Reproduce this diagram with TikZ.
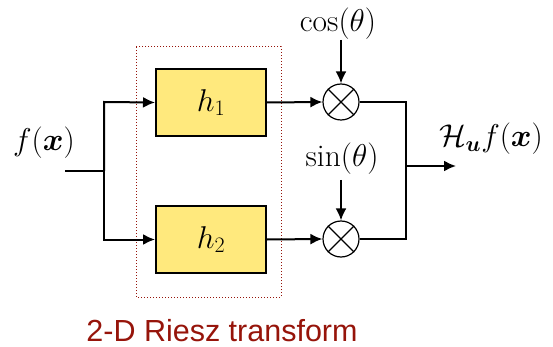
\RequirePackage{fix-cm}
\documentclass[tikz,border=0pt]{standalone}
\usepackage{bm}
\usepackage{fontspec}
\newfontfamily\labelfont{Liberation Sans}
\usetikzlibrary{arrows.meta}
\definecolor{boxyellow}{RGB}{255,233,125}
\definecolor{darkred}{RGB}{150,20,10}
\begin{document}
\begin{tikzpicture}[x=1pt,y=-1pt,
  wire/.style={line width=2pt},
  arr/.style={wire,-{Latex[length=12pt,width=11pt]}},
  filterbox/.style={draw,line width=2pt,fill=boxyellow,minimum width=110pt,minimum height=67pt,inner sep=0pt},
  mult/.style={draw,circle,line width=1.2pt,minimum size=36pt,inner sep=0pt},
  mathtxt/.style={inner sep=0pt,font=\fontsize{31.5}{38}\selectfont}]
\useasboundingbox (0,0) rectangle (553,347);
\draw[darkred,dotted,line width=1pt] (136,47) rectangle (281,297);
\node[mathtxt] (fx) at (44,143) {$f(\bm{x})$};
\coordinate (in) at (65,171);
\coordinate (br) at (104,171);
\coordinate (brt) at (104,102);
\coordinate (brb) at (104,239);
\node[filterbox] (h1) at (211,102.5) {\fontsize{31.5}{38}\selectfont$h_1$};
\node[filterbox] (h2) at (211,239.5) {\fontsize{31.5}{38}\selectfont$h_2$};
\node[mult] (m1) at (341,102) {};
\node[mult] (m2) at (341,239) {};
\draw[line width=1.2pt] (m1.north east) -- (m1.south west) (m1.north west) -- (m1.south east);
\draw[line width=1.2pt] (m2.north east) -- (m2.south west) (m2.north west) -- (m2.south east);
\node[mathtxt] (cos) at (338,24) {$\cos(\theta)$};
\node[mathtxt] (sin) at (342,159) {$\sin(\theta)$};
\coordinate (cosend) at (341,40);
\coordinate (sinend) at (341,180);
\draw[wire] (in) -- (br);
\draw[arr] (brt) -- (brb |- h2.west) -- (h2.west);
\draw[arr] (br) -- (brt) -- (h1.west);
\draw[arr] (h1.east) -- (m1.west);
\draw[arr] (h2.east) -- (m2.west);
\draw[arr] (cosend) -- (m1.north);
\draw[arr] (sinend) -- (m2.north);
\coordinate (jt) at (406,102);
\coordinate (jb) at (406,239);
\coordinate (jm) at (406,166);
\coordinate (out) at (456,166);
\draw[wire] (m1.east) -- (jt) -- (jb) -- (m2.east);
\draw[arr] (jm) -- (out);
\node[mathtxt] (H) at (491,139) {$\mathcal{H}_{\bm{u}}f(\bm{x})$};
\node[inner sep=0pt,text=darkred,font=\labelfont\fontsize{30.5}{36}\selectfont] (lbl) at (222,331) {2-D Riesz transform};
\end{tikzpicture}
\end{document}
